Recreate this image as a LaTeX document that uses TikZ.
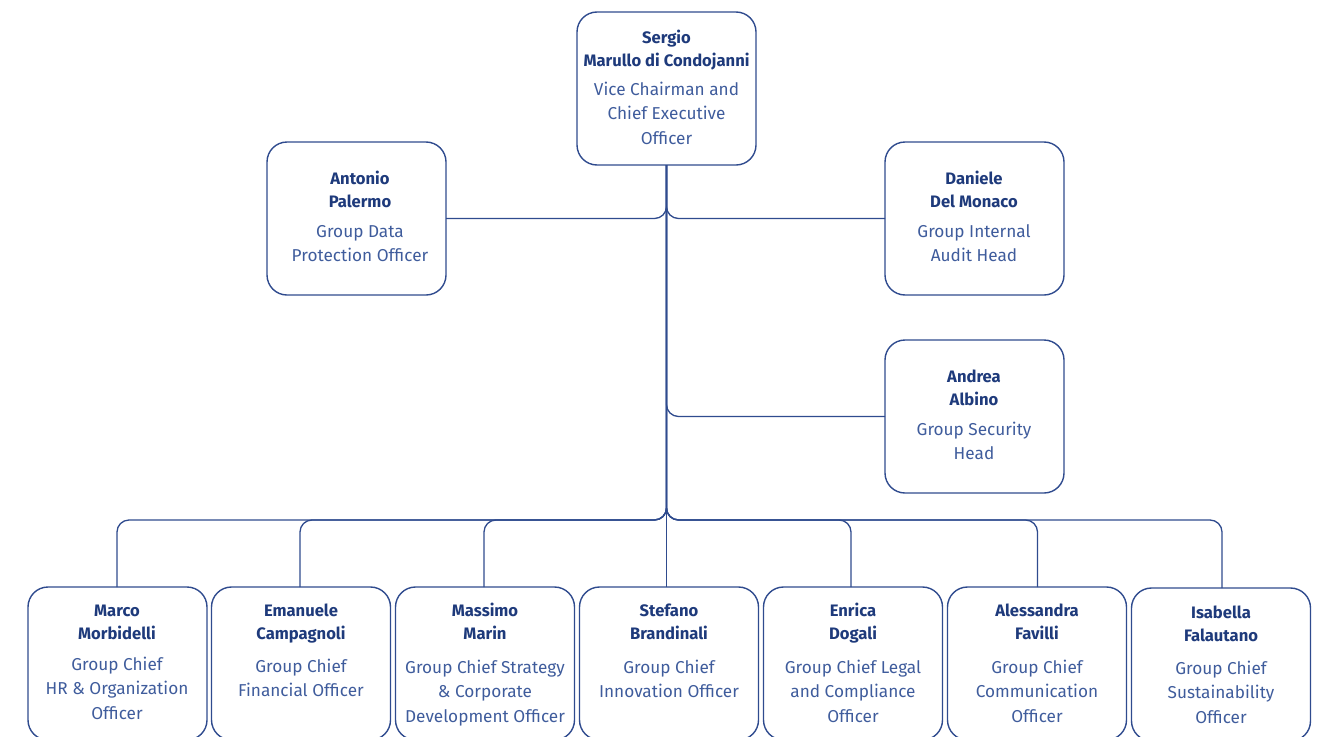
\documentclass[tikz,border=0pt]{standalone}
\usepackage{fontspec}
\setmainfont{Fira Sans}
\definecolor{navy}{HTML}{1E3A7B}
\definecolor{titleblue}{HTML}{3F5C9C}
\definecolor{linecol}{HTML}{2F4B8E}
\tikzset{
  box/.style={draw=linecol, line width=1.4pt, rounded corners=20pt, minimum width=179pt, minimum height=153pt, outer sep=0pt, inner sep=0pt},
  nameline/.style={anchor=base, text=navy, font=\bfseries\fontsize{16.6}{19}\selectfont, inner sep=0pt},
  titleline/.style={anchor=base, text=titleblue, font=\fontsize{17.2}{20}\selectfont, inner sep=0pt},
  conn/.style={draw=linecol, line width=1.3pt, rounded corners=12pt}
}
% id, x, y of first name line centre, name lines, y of first title line centre, title lines
\newcommand\orgtext[6]{%
  \foreach \l [count=\i] in {#4} {\node[nameline] (#1-n\i) at (#2,{#3+6+23*(\i-1)}) {\l};}
  \foreach \l [count=\i] in {#6} {\node[titleline] (#1-t\i) at (#2,{#5+6+24.5*(\i-1)}) {\l};}
}
\begin{document}
\begin{tikzpicture}[x=1pt,y=-1pt]
\useasboundingbox (0,0) rectangle (1329,736);
% boxes
\node[box] (ceo) at (666.5,88.5) {};
\node[box] (antonio) at (356.5,218.5) {};
\node[box] (daniele) at (974.5,218.5) {};
\node[box] (andrea) at (974.5,416.5) {};
\node[box] (marco) at (117.5,663.5) {};
\node[box] (emanuele) at (301,663.5) {};
\node[box] (massimo) at (485,663.5) {};
\node[box] (stefano) at (669,663.5) {};
\node[box] (enrica) at (853,663.5) {};
\node[box] (alessandra) at (1037,663.5) {};
\node[box] (isabella) at (1221,664.5) {};
\coordinate (bus) at (666.5,520);
% connectors
\draw[conn] (ceo.south) -- (ceo.south |- stefano.north);
\draw[conn] (antonio.east) -| (ceo.south);
\draw[conn] (daniele.west) -| (ceo.south);
\draw[conn] (ceo.south) |- (andrea.west);
\foreach \c/\dx in {marco/-0.5,emanuele/-1,massimo/-1,enrica/-2,alessandra/0.5,isabella/1}
  {\draw[conn] (ceo.south) |- ([xshift=\dx pt]\c.north |- bus) -- ([xshift=\dx pt]\c.north);}
% texts
\orgtext{ceo}{666.5}{37}{Sergio,Marullo di Condojanni}{89}{Vice Chairman and,Chief Executive,Officer}
\orgtext{antonio}{360}{178}{Antonio,Palermo}{231}{Group Data,Protection Officer}
\orgtext{daniele}{974}{178}{Daniele,Del Monaco}{231}{Group Internal,Audit Head}
\orgtext{andrea}{974}{376}{Andrea,Albino}{429}{Group Security,Head}
\orgtext{marco}{117}{610}{Marco,Morbidelli}{664}{Group Chief,HR \& Organization,Officer}
\orgtext{emanuele}{301}{610}{Emanuele,Campagnoli}{666}{Group Chief,Financial Officer}
\orgtext{massimo}{485}{610}{Massimo,Marin}{667}{Group Chief Strategy,\& Corporate,Development Officer}
\orgtext{stefano}{669}{610}{Stefano,Brandinali}{667}{Group Chief,Innovation Officer}
\orgtext{enrica}{853}{610}{Enrica,Dogali}{667}{Group Chief Legal,and Compliance,Officer}
\orgtext{alessandra}{1037}{610}{Alessandra,Favilli}{667}{Group Chief,Communication,Officer}
\orgtext{isabella}{1221}{612}{Isabella,Falautano}{668}{Group Chief,Sustainability,Officer}
\end{tikzpicture}
\end{document}
